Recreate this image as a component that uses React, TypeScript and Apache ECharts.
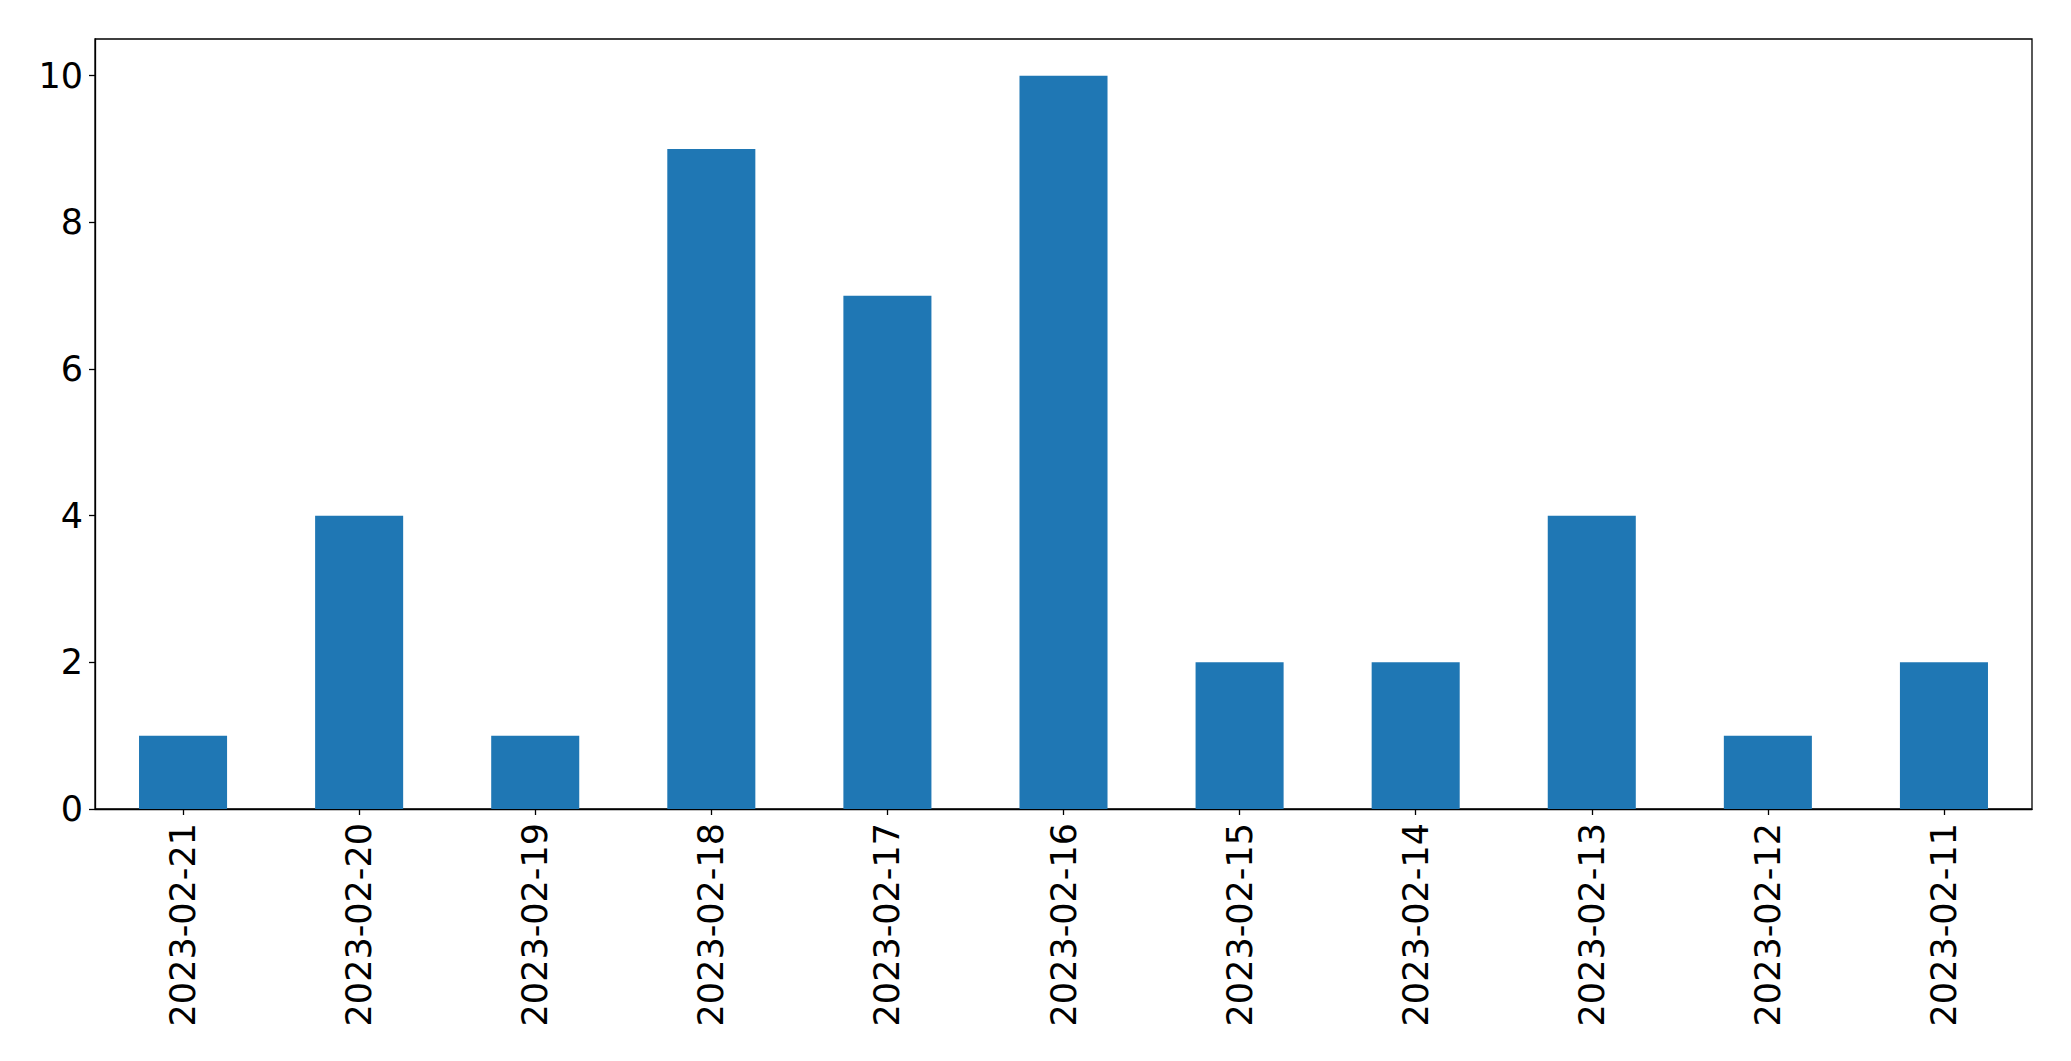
import React, { useEffect, useRef } from "react";
import * as echarts from "echarts";

const categories = [
  "2023-02-21", "2023-02-20", "2023-02-19", "2023-02-18", "2023-02-17", "2023-02-16",
  "2023-02-15", "2023-02-14", "2023-02-13", "2023-02-12", "2023-02-11",
];
const values = [1, 4, 1, 9, 7, 10, 2, 2, 4, 1, 2];
const yTicks = [0, 2, 4, 6, 8, 10];

export default function App() {
  const ref = useRef<HTMLDivElement>(null);
  useEffect(() => {
    if (!ref.current) return;
    const chart = echarts.init(ref.current, undefined, { renderer: "svg" });
    const font = "DejaVu Sans";
    chart.setOption({
      animation: false,
      backgroundColor: "#ffffff",
      grid: {
        left: 95,
        right: 39,
        top: 39,
        bottom: 252,
        show: true,
        borderColor: "#000000",
        borderWidth: 1.3,
        backgroundColor: "transparent",
      },
      xAxis: {
        type: "category",
        data: categories,
        boundaryGap: true,
        axisLine: { show: true, lineStyle: { color: "#000", width: 1.3 } },
        axisTick: { show: true, alignWithLabel: true, length: 6, lineStyle: { color: "#000", width: 1.3 } },
        axisLabel: {
          rotate: 90,
          margin: 14,
          fontSize: 35,
          fontFamily: font,
          color: "#000",
          interval: 0,
        },
        splitLine: { show: false },
      },
      yAxis: {
        type: "value",
        min: 0,
        max: 10.5,
        interval: 2,
        axisLine: { show: true, lineStyle: { color: "#000", width: 1.3 } },
        axisTick: { show: true, length: 6, customValues: yTicks, lineStyle: { color: "#000", width: 1.3 } },
        axisLabel: {
          customValues: yTicks,
          margin: 12,
          fontSize: 35,
          fontFamily: font,
          color: "#000",
        },
        splitLine: { show: false },
      },
      series: [
        {
          type: "bar",
          data: values,
          barWidth: "50%",
          itemStyle: { color: "#1f77b4" },
        },
      ],
    });
    return () => chart.dispose();
  }, []);
  return (
    <div
      ref={ref}
      style={{ position: "fixed", left: 0, top: 0, width: 2071, height: 1061, background: "#fff" }}
    />
  );
}
